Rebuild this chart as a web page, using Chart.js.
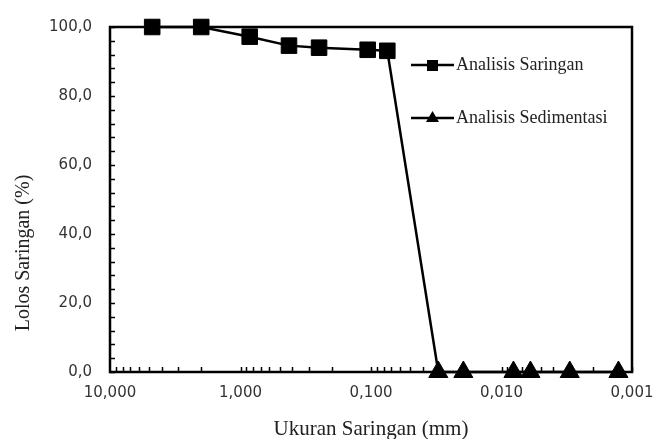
<!DOCTYPE html>
<html>
<head>
<meta charset="utf-8">
<script src="https://cdn.jsdelivr.net/npm/chart.js@4"></script>
<style>
  html, body { margin: 0; padding: 0; background: #fff; }
  #wrap { width: 666px; height: 439px; }
</style>
</head>
<body>
<div id="wrap"><canvas id="chart" width="666" height="439"></canvas></div>
<script>
// ukuran saringan (mm) dan persen lolos
const sieveSize = [4.75, 2.0, 0.85, 0.425, 0.25, 0.106, 0.075];
const sievePass = [100.0, 100.0, 97.2, 94.6, 94.0, 93.4, 93.1];
// sedimentasi (titik pertama = sambungan dari saringan terakhir)
const sedSize = [0.075, 0.0305, 0.0196, 0.0081, 0.0060, 0.0030, 0.00127];
const sedPass = [93.1, 0.0, 0.0, 0.0, 0.0, 0.0, 0.0];
const xTicks = [10, 1, 0.1, 0.01, 0.001];
const seriesNames = ['Analisis Saringan', 'Analisis Sedimentasi'];
const xTitle = 'Ukuran Saringan (mm)';
const yTitle = 'Lolos Saringan (%)';

const serif = '"Liberation Serif", "Times New Roman", serif';
const sans = '"DejaVu Sans", sans-serif';

// frame, minor ticks, legend, y title
const decor = {
  id: 'decor',
  afterDraw(chart) {
    const ctx = chart.ctx;
    const a = chart.chartArea;
    const xs = chart.scales.x, ys = chart.scales.y;
    ctx.save();
    ctx.strokeStyle = '#000';
    ctx.lineWidth = 1.5;
    ctx.beginPath();
    for (let v = 0; v <= 100; v += 4) {
      const py = Math.round(ys.getPixelForValue(v)) + 0.5;
      ctx.moveTo(a.left, py); ctx.lineTo(a.left + 5, py);
    }
    for (let d = 0.001; d < 10; d *= 10) {
      for (let k = 1; k <= 9; k++) {
        const px = Math.round(xs.getPixelForValue(d * k)) + 0.5;
        ctx.moveTo(px, a.bottom); ctx.lineTo(px, a.bottom - 5);
      }
    }
    ctx.stroke();
    ctx.lineWidth = 2.5;
    ctx.strokeRect(a.left, a.top, a.right - a.left, a.bottom - a.top);

    // legend
    const items = [{ y: 65, style: 'rect' }, { y: 118, style: 'triangle' }];
    items.forEach((it, i) => {
      ctx.strokeStyle = '#000';
      ctx.lineWidth = 2.5;
      ctx.beginPath();
      ctx.moveTo(411, it.y); ctx.lineTo(454, it.y);
      ctx.stroke();
      ctx.fillStyle = '#000';
      if (it.style === 'rect') {
        ctx.fillRect(427, it.y - 5, 11, 11);
      } else {
        ctx.beginPath();
        ctx.moveTo(432.5, it.y - 7);
        ctx.lineTo(439, it.y + 4);
        ctx.lineTo(426, it.y + 4);
        ctx.closePath();
        ctx.fill();
      }
      ctx.fillStyle = '#222';
      ctx.font = '18px ' + serif;
      ctx.textBaseline = 'middle';
      ctx.textAlign = 'left';
      ctx.fillText(seriesNames[i], 456, it.y);
    });

    ctx.translate(24, 253);
    ctx.rotate(-Math.PI / 2);
    ctx.font = '20px ' + serif;
    ctx.fillStyle = '#222';
    ctx.textAlign = 'center';
    ctx.textBaseline = 'middle';
    ctx.fillText(yTitle, 0, 0);
    ctx.restore();
  }
};

new Chart(document.getElementById('chart').getContext('2d'), {
  type: 'scatter',
  data: {
    datasets: [
      {
        label: seriesNames[0],
        data: sieveSize.map((s, i) => ({ x: s, y: sievePass[i] })),
        showLine: true,
        borderColor: '#000',
        backgroundColor: '#000',
        borderWidth: 2.5,
        pointStyle: 'rect',
        pointRadius: 11,
        pointBorderWidth: 1,
        clip: false
      },
      {
        label: seriesNames[1],
        data: sedSize.map((s, i) => ({ x: s, y: sedPass[i] })),
        showLine: true,
        borderColor: '#000',
        backgroundColor: '#000',
        borderWidth: 2.5,
        pointStyle: 'triangle',
        pointRadius: sedSize.map((s, i) => i === 0 ? 0 : 11),
        pointBorderWidth: 1,
        clip: false
      }
    ]
  },
  options: {
    responsive: false,
    animation: false,
    layout: { padding: { top: 22, right: 34, left: 0, bottom: 0 } },
    plugins: { legend: { display: false }, tooltip: { enabled: false } },
    scales: {
      x: {
        type: 'logarithmic',
        reverse: true,
        min: 0.001,
        max: 10,
        afterBuildTicks: (s) => { s.ticks = xTicks.map(v => ({ value: v })); },
        afterFit: (s) => { s.height = 67; },
        grid: { display: false, drawTicks: false },
        border: { display: false },
        ticks: {
          padding: 12,
          color: '#333',
          font: { family: sans, size: 15 },
          maxRotation: 0,
          autoSkip: false,
          callback: (v) => Number(v).toFixed(3).replace('.', ',')
        },
        title: {
          display: true,
          text: xTitle,
          color: '#222',
          font: { family: serif, size: 21 },
          padding: { top: 8, bottom: -3 }
        }
      },
      y: {
        min: 0,
        max: 100,
        afterFit: (s) => { s.width = 110; },
        grid: { display: false, drawTicks: false },
        border: { display: false },
        ticks: {
          stepSize: 20,
          padding: 18,
          color: '#333',
          font: { family: sans, size: 15 },
          callback: (v) => Number(v).toFixed(1).replace('.', ',')
        }
      }
    }
  },
  plugins: [decor]
});
</script>
</body>
</html>
